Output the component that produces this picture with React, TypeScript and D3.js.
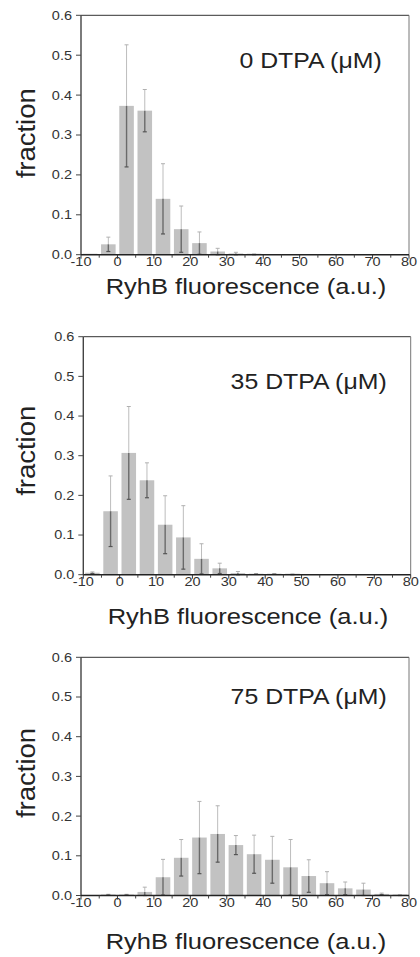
import React from "react";
import * as d3 from "d3";

// ---- data ----
const BIN_CENTERS = [-7.5, -2.5, 2.5, 7.5, 12.5, 17.5, 22.5, 27.5, 32.5, 37.5, 42.5, 47.5, 52.5, 57.5, 62.5, 67.5, 72.5, 77.5];
const BIN_WIDTH = 5;
const X_TICKS = [-10, 0, 10, 20, 30, 40, 50, 60, 70, 80];
const X_MINOR = [-5, 5, 15, 25, 35, 45, 55, 65, 75];
const Y_TICKS = [0, 0.1, 0.2, 0.3, 0.4, 0.5, 0.6];
const PANEL_LABELS = ["0 DTPA (\u03BCM)", "35 DTPA (\u03BCM)", "75 DTPA (\u03BCM)"];
const X_TITLE = "RyhB fluorescence (a.u.)";
const Y_TITLE = "fraction";

const FRACTION_0 = [0.002, 0.026, 0.373, 0.361, 0.140, 0.064, 0.029, 0.008, 0.003, 0.001, 0, 0, 0, 0, 0, 0, 0, 0];
const ERROR_0 = [0, 0.018, 0.153, 0.053, 0.088, 0.058, 0.028, 0.008, 0.003, 0.001, 0, 0, 0, 0, 0, 0, 0, 0];

const FRACTION_35 = [0.005, 0.160, 0.307, 0.238, 0.126, 0.094, 0.040, 0.016, 0.004, 0.002, 0.002, 0.001, 0, 0, 0, 0, 0, 0];
const ERROR_35 = [0.002, 0.089, 0.117, 0.044, 0.073, 0.080, 0.038, 0.013, 0.004, 0.001, 0.001, 0.001, 0, 0, 0, 0, 0, 0];

const FRACTION_75 = [0, 0.002, 0.002, 0.009, 0.046, 0.095, 0.146, 0.155, 0.127, 0.104, 0.090, 0.071, 0.049, 0.031, 0.018, 0.015, 0.004, 0.001];
const ERROR_75 = [0, 0.001, 0.001, 0.012, 0.045, 0.046, 0.091, 0.071, 0.024, 0.048, 0.059, 0.070, 0.041, 0.029, 0.016, 0.016, 0.002, 0.001];

const SERIES = [
  { values: FRACTION_0, errors: ERROR_0 },
  { values: FRACTION_35, errors: ERROR_35 },
  { values: FRACTION_75, errors: ERROR_75 },
];

// ---- layout ----
const LAYOUT = [
  { left: 81, right: 409, top: 15.3, bottom: 254.7, labelX: 381.7, labelY: 68.3, titleY: 294, yLabelY: 133.3 },
  { left: 83.3, right: 410.7, top: 336.7, bottom: 574.7, labelX: 386.7, labelY: 389.3, titleY: 624.3, yLabelY: 450.8 },
  { left: 81, right: 409, top: 657.3, bottom: 895.5, labelX: 386.7, labelY: 704.3, titleY: 949.3, yLabelY: 773 },
];

const FONT = "'Liberation Sans', Arial, Helvetica, sans-serif";

function T(props: any) {
  const { x, y, sx = 1.16, anchor = "start", size, fill = "#222", rot, children } = props;
  const tr = `translate(${x},${y})${rot ? ` rotate(${rot})` : ""} scale(${sx},1)`;
  return (
    <text transform={tr} textAnchor={anchor} fontSize={size} fill={fill} fontFamily={FONT}>
      {children}
    </text>
  );
}

function Panel({ idx }: { idx: number }) {
  const L = LAYOUT[idx];
  const { values, errors } = SERIES[idx];
  const x = d3.scaleLinear().domain([-10, 80]).range([L.left, L.right]);
  const y = d3.scaleLinear().domain([0, 0.6]).range([L.bottom, L.top]);
  const pad = 0.5;
  const capW = 2;

  return (
    <g>
      {/* bars */}
      {BIN_CENTERS.map((c, i) => {
        const v = values[i];
        if (v <= 0) return null;
        const x0 = x(c - BIN_WIDTH / 2 + pad);
        const x1 = x(c + BIN_WIDTH / 2 - pad);
        const yt = Math.min(y(v), L.bottom - 1);
        return <rect key={"b" + i} x={x0} y={yt} width={x1 - x0} height={L.bottom - yt} fill="#c2c2c2" />;
      })}
      {/* error bars */}
      {BIN_CENTERS.map((c, i) => {
        const v = values[i];
        const e = errors[i];
        if (e <= 0) return null;
        const cx = x(c);
        const yTop = y(v + e);
        const yBot = y(Math.max(0, v - e));
        const yv = y(v);
        return (
          <g key={"e" + i}>
            <line x1={cx} x2={cx} y1={yTop} y2={yv} stroke="#bdbdbd" strokeWidth={1} />
            <line x1={cx - capW} x2={cx + capW} y1={yTop} y2={yTop} stroke="#b0b0b0" strokeWidth={1} />
            <line x1={cx} x2={cx} y1={yv} y2={yBot} stroke="#6a6a6a" strokeWidth={1.4} />
            <line x1={cx - capW} x2={cx + capW} y1={yBot} y2={yBot} stroke="#555" strokeWidth={1.2} />
          </g>
        );
      })}
      {/* frame */}
      <line x1={L.left} x2={L.right} y1={L.top} y2={L.top} stroke="#333" strokeWidth={1} />
      <line x1={L.right} x2={L.right} y1={L.top} y2={L.bottom} stroke="#777" strokeWidth={1} />
      <line x1={L.left} x2={L.left} y1={L.top} y2={L.bottom} stroke="#444" strokeWidth={1.4} />
      <line x1={L.left} x2={L.right} y1={L.bottom} y2={L.bottom} stroke="#222" strokeWidth={1.5} />
      {/* y ticks */}
      {Y_TICKS.map((t) => (
        <g key={"yt" + t}>
          <line x1={L.left - 5} x2={L.left} y1={y(t)} y2={y(t)} stroke="#444" strokeWidth={1} />
          <T x={L.left - 9} y={y(t) + 4.4} anchor="end" size={12.3} sx={1.18} fill="#333">
            {d3.format(".1f")(t)}
          </T>
        </g>
      ))}
      {/* x ticks */}
      {X_TICKS.map((t) => (
        <g key={"xt" + t}>
          <line x1={x(t)} x2={x(t)} y1={L.bottom} y2={L.bottom + 4} stroke="#333" strokeWidth={1} />
          <T x={x(t)} y={L.bottom + 11.7} anchor="middle" size={12.3} sx={1.18} fill="#333">
            {String(t)}
          </T>
        </g>
      ))}
      {X_MINOR.map((t) => (
        <line key={"xm" + t} x1={x(t)} x2={x(t)} y1={L.bottom} y2={L.bottom + 3} stroke="#444" strokeWidth={1} />
      ))}
      {/* texts */}
      <T x={L.labelX} y={L.labelY} anchor="end" size={22} sx={1.13} fill="#222">
        {PANEL_LABELS[idx]}
      </T>
      <T x={(L.left + L.right) / 2 + 1} y={L.titleY} anchor="middle" size={22} sx={1.16} fill="#222">
        {X_TITLE}
      </T>
      <T x={35} y={L.yLabelY} anchor="middle" size={25} sx={1.1} rot={-90} fill="#222">
        {Y_TITLE}
      </T>
    </g>
  );
}

export default function App() {
  return (
    <div style={{ position: "absolute", left: 0, top: 0, width: 420, height: 957, background: "#fff" }}>
      <svg width={420} height={957} viewBox="0 0 420 957" style={{ display: "block" }}>
        <rect x={0} y={0} width={420} height={957} fill="#fff" />
        {[0, 1, 2].map((i) => (
          <Panel key={i} idx={i} />
        ))}
      </svg>
    </div>
  );
}
